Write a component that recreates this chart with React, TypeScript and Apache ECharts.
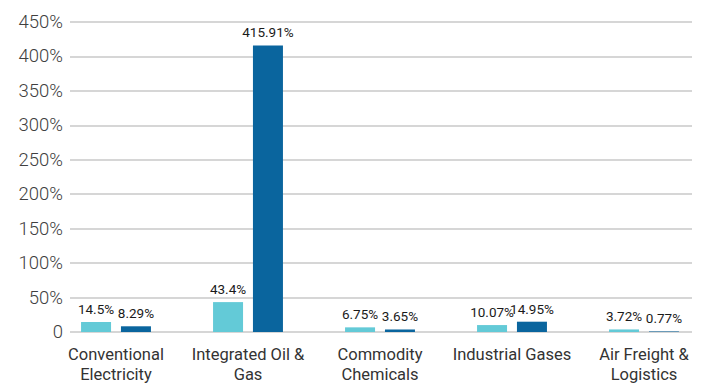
import React, { useEffect, useRef } from "react";
import * as echarts from "echarts";

const categories = [
  "Conventional\nElectricity",
  "Integrated Oil &\nGas",
  "Commodity\nChemicals",
  "Industrial Gases",
  "Air Freight &\nLogistics",
];
const seriesA = [14.5, 43.4, 6.75, 10.07, 3.72];
const seriesB = [8.29, 415.91, 3.65, 14.95, 0.77];
const yTicks = [0, 50, 100, 150, 200, 250, 300, 350, 400, 450];

export default function App() {
  const ref = useRef<HTMLDivElement>(null);
  useEffect(() => {
    if (!ref.current) return;
    const chart = echarts.init(ref.current, null, { renderer: "svg" });
    const top = 22;
    const bottom = 56;
    const labelStyle = {
      show: true,
      position: "top" as const,
      distance: 6,
      fontFamily: "Roboto",
      fontSize: 13.5,
      color: "#1a1a1a",
      formatter: (p: any) => p.value + "%",
    };
    chart.setOption({
      animation: false,
      grid: [
        { left: 70, right: 18, top, bottom },
        { left: 50, right: 0, top, bottom },
      ],
      xAxis: [
        {
          gridIndex: 0,
          type: "category",
          data: categories,
          axisLine: { show: false },
          axisTick: { show: false },
          axisLabel: { show: false },
        },
        {
          gridIndex: 1,
          type: "category",
          data: categories,
          axisLine: { show: false },
          axisTick: { show: false },
          axisLabel: {
            fontFamily: "Roboto",
            fontSize: 16.5,
            lineHeight: 20,
            color: "#333",
            margin: 12,
            interval: 0,
          },
        },
      ],
      yAxis: [
        {
          gridIndex: 0,
          type: "value",
          min: yTicks[0],
          max: yTicks[yTicks.length - 1],
          interval: 50,
          axisLine: { show: false },
          axisTick: { show: false },
          splitLine: { lineStyle: { color: "#c8c8c8", width: 1.5 } },
          axisLabel: {
            fontFamily: "Roboto",
            fontWeight: 300,
            fontSize: 18.5,
            color: "#404040",
            margin: 7,
            formatter: (v: number) => (v === 0 ? "0" : v + "%"),
          },
        },
        {
          gridIndex: 1,
          type: "value",
          min: yTicks[0],
          max: yTicks[yTicks.length - 1],
          interval: 50,
          show: false,
          splitLine: { show: false },
        },
      ],
      series: [
        {
          type: "bar",
          xAxisIndex: 1,
          yAxisIndex: 1,
          data: seriesA,
          barWidth: 30,
          barGap: "33%",
          itemStyle: { color: "#63CAD7" },
          label: labelStyle,
        },
        {
          type: "bar",
          xAxisIndex: 1,
          yAxisIndex: 1,
          data: seriesB,
          barWidth: 30,
          barGap: "33%",
          itemStyle: { color: "#0A659E" },
          label: labelStyle,
        },
      ],
    });
    return () => chart.dispose();
  }, []);
  return (
    <div
      ref={ref}
      style={{ position: "fixed", left: 0, top: 0, width: 710, height: 388, background: "#fff" }}
    />
  );
}
